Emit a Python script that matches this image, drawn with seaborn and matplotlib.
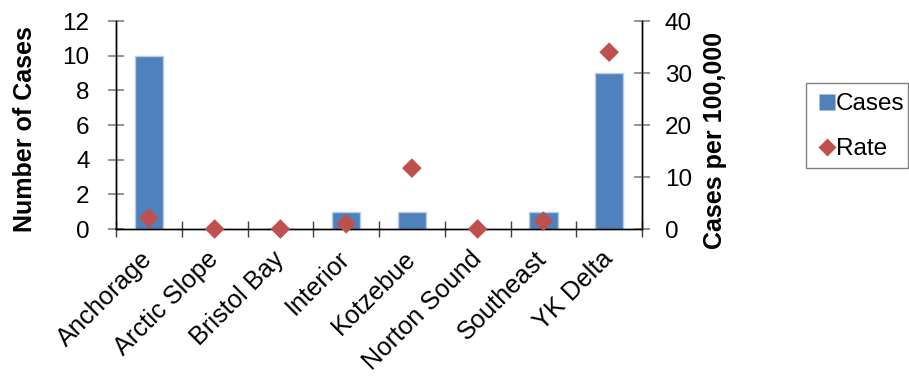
import matplotlib
matplotlib.use("Agg")
import matplotlib.pyplot as plt
import seaborn as sns
import pandas as pd
import numpy as np
from matplotlib.lines import Line2D
from matplotlib.patches import Rectangle

regions = ["Anchorage", "Arctic Slope", "Bristol Bay", "Interior", "Kotzebue",
           "Norton Sound", "Southeast", "YK Delta"]
cases = [10, 0, 0, 1, 1, 0, 1, 9]
rate = [2.1, 0.0, 0.0, 1.0, 11.7, 0.0, 1.5, 34.0]

df = pd.DataFrame({"region": regions, "cases": cases, "rate": rate})

sns.set_theme(style="white")
plt.rcParams["font.family"] = ["Liberation Sans", "DejaVu Sans"]
plt.rcParams["text.color"] = "black"
plt.rcParams["axes.labelcolor"] = "black"
plt.rcParams["xtick.labelcolor"] = "black"
plt.rcParams["ytick.labelcolor"] = "black"

bar_color = "#4F81BD"
pt_color = "#C0504D"
FS = 17.5
XFS = 18.3
LFS = 18

W, H = 909, 380
L, R, T, B = 116, 642, 21, 229
fig = plt.figure(figsize=(W / 100, H / 100), dpi=100)
ax = fig.add_axes([L / W, 1 - B / H, (R - L) / W, (B - T) / H])

sns.barplot(data=df, x="region", y="cases", color=bar_color, width=0.43,
            edgecolor="#B9CDE5", linewidth=1.0, saturation=1, ax=ax)
ax.set_xlim(-0.5, len(regions) - 0.5)
ax.set_ylim(0, 12)
ax.set_yticks(np.arange(0, 13, 2))
ax.set_xlabel("")
ax.set_ylabel("Number of Cases", fontsize=LFS, fontweight="bold")
ax.yaxis.set_label_coords(-0.150, 0.48)

ax2 = ax.twinx()
sns.scatterplot(data=df, x="region", y="rate", marker="D", s=100, color=pt_color,
                edgecolor="none", ax=ax2, zorder=5, clip_on=False)
ax2.set_ylim(0, 40)
ax2.set_yticks(np.arange(0, 41, 10))
ax2.set_ylabel("Cases per 100,000", fontsize=LFS, fontweight="bold")
ax2.yaxis.set_label_coords(1.116, 0.425)
ax2.set_xlim(-0.5, len(regions) - 0.5)

for a in (ax, ax2):
    a.spines["top"].set_visible(False)
    for side in ("left", "right", "bottom"):
        a.spines[side].set_color("black")
        a.spines[side].set_linewidth(1.0)

ax.tick_params(axis="y", which="both", direction="inout", length=11, width=1.2,
               color="#808080", labelsize=FS, pad=13.5, left=True)
ax2.tick_params(axis="y", which="both", direction="inout", length=11, width=1.2,
                color="#808080", labelsize=FS, pad=11, right=True)

# category separators on the x axis
ax.set_xticks(np.arange(len(regions)))
ax.set_xticklabels(regions, rotation=45, ha="right", va="center",
                   rotation_mode="anchor", fontsize=XFS)
ax.tick_params(axis="x", which="major", length=0, pad=19)
ax.set_xticks(np.arange(-0.5, len(regions) + 0.5, 1), minor=True)
ax.tick_params(axis="x", which="minor", direction="inout", length=11, width=1.0,
               color="#404040", bottom=True)

# legend, with its frame drawn as a separate rectangle
handles = [
    Line2D([0], [0], marker="s", color="none", markerfacecolor=bar_color,
           markeredgecolor="none", markersize=11.5, label="Cases"),
    Line2D([0], [0], marker="D", color="none", markerfacecolor=pt_color,
           markeredgecolor="none", markersize=9.5, label="Rate"),
]
fig.legend(handles=handles, loc="upper left", bbox_to_anchor=(818 / W, 1 - 93 / H),
           frameon=False, fontsize=FS, handlelength=0.7, handletextpad=0.05,
           borderpad=0, labelspacing=0.95, borderaxespad=0)
fig.patches.append(Rectangle((806 / W, 1 - 168 / H), (908 - 806) / W, (168 - 83) / H,
                             transform=fig.transFigure, fill=False,
                             edgecolor="#808080", linewidth=1.0))

fig.savefig("out.png", dpi=100, facecolor="white")
